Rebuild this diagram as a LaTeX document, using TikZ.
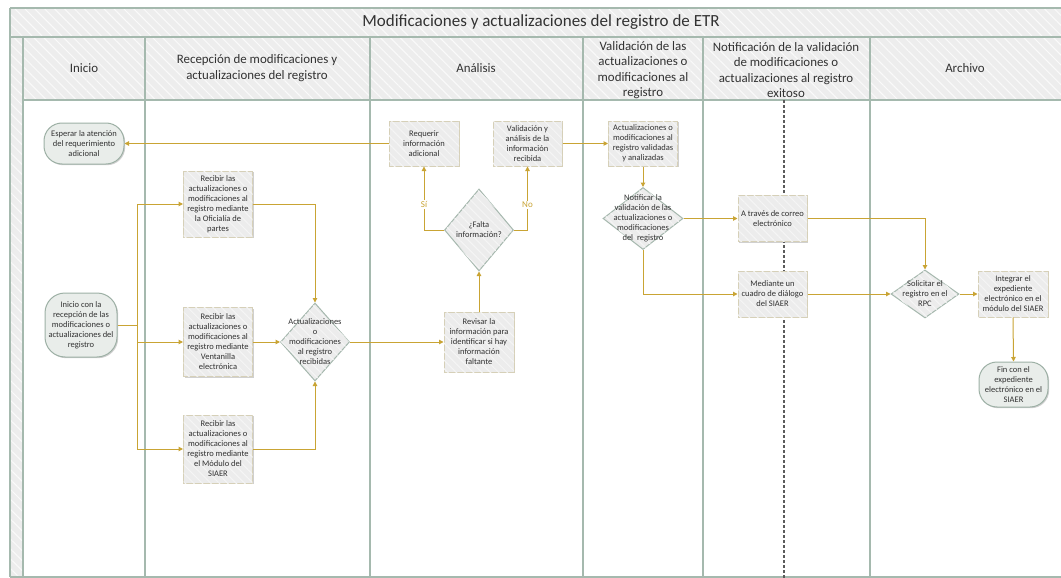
\documentclass[tikz,border=0pt]{standalone}
\usepackage{fontspec}
\setmainfont{Carlito}
\usetikzlibrary{shapes.geometric,arrows.meta,shadows,patterns.meta}
\definecolor{gold}{RGB}{201,164,52}
\definecolor{boxborder}{RGB}{214,208,184}
\definecolor{boxfill}{RGB}{236,236,236}
\definecolor{dmborder}{RGB}{166,184,174}
\definecolor{termfill}{RGB}{233,237,234}
\definecolor{termborder}{RGB}{157,176,165}
\definecolor{laneline}{RGB}{165,185,174}
\definecolor{hdrfill}{RGB}{237,237,237}
\definecolor{txt}{RGB}{50,50,50}
\begin{document}
\begin{tikzpicture}[x=1pt,y=-1pt,
  nodefont/.style={font=\fontsize{8.5}{10}\selectfont, text=txt, align=center},
  hdrtext/.style={font=\fontsize{12.9}{15.5}\selectfont, text=txt, align=center},
  hatch/.style={postaction={pattern={Lines[angle=-45,distance=7pt,line width=1pt]},pattern color=white!70!hdrfill}},
  boxnode/.style={nodefont, rectangle, draw=boxborder, line width=1pt, fill=boxfill, inner sep=1pt,
    minimum width=69pt, drop shadow={shadow xshift=1.2pt,shadow yshift=-1.2pt,opacity=.3,fill=black!60},
    postaction={pattern={Lines[angle=-45,distance=6pt,line width=1pt]},pattern color=white!50!boxfill}},
  termnode/.style={nodefont, rectangle, rounded corners=18pt, draw=termborder, line width=1pt, fill=termfill, inner sep=1pt,
    drop shadow={shadow xshift=1.2pt,shadow yshift=-1.2pt,opacity=.3,fill=black!60}},
  dmnode/.style={diamond, draw=dmborder, line width=1pt, fill=boxfill, inner sep=0pt, aspect=1,
    postaction={pattern={Lines[angle=-45,distance=6pt,line width=1pt]},pattern color=white!50!boxfill}},
  conn/.style={draw=gold, line width=1pt, -{Triangle[width=4.5pt,length=4.5pt]}},
  connplain/.style={draw=gold, line width=1pt},
  lbl/.style={font=\fontsize{9}{10}\selectfont, text=gold, fill=white, inner sep=1pt},
  lane/.style={draw=laneline, line width=1.5pt}
]
\useasboundingbox (0,0) rectangle (1061,578);
% pool background
\fill[white] (0,0) rectangle (1061,578);
% title band
\path[fill=hdrfill, hatch] (10,8) rectangle (1061,37);
% left strip
\path[fill=hdrfill, hatch] (10,37) rectangle (23,577);
% header row
\path[fill=hdrfill, hatch] (23,37) rectangle (1061,100);
% frame lines
\draw[lane] (10,8) -- (1061,8);
\draw[lane] (10,37) -- (1061,37);
\draw[lane] (23,100) -- (1061,100);
\draw[lane] (10,8) -- (10,577);
\draw[lane] (23,37) -- (23,577);
\draw[lane] (10,577) -- (1061,577);
\foreach \xx in {145,370,583,703,870} {\draw[lane] (\xx,37) -- (\xx,577);}
\draw[txt!80, line width=1.1pt, dash pattern=on 3pt off 2pt] (784,100) -- (784,578);

% title and headers
\node[font=\fontsize{17}{20}\selectfont, text=txt] (title) at (541,22) {Modificaciones y actualizaciones del registro de ETR};
\node[hdrtext] (h1) at (84,68) {Inicio};
\node[hdrtext] (h2) at (257,68) {Recepción de modificaciones y\\actualizaciones del registro};
\node[hdrtext] (h3) at (476,68) {Análisis};
\node[hdrtext] (h4) at (643,70) {Validación de las\\actualizaciones o\\modificaciones al\\registro};
\node[hdrtext] (h5) at (786,70) {Notificación de la validación\\de modificaciones o\\actualizaciones al registro\\exitoso};
\node[hdrtext] (h6) at (965,68) {Archivo};

% nodes
\node[termnode, minimum width=80pt, minimum height=41pt] (n1) at (84,143.5) {Esperar la atención\\del requerimiento\\adicional};
\node[boxnode, minimum height=66pt] (n2) at (218,204) {Recibir las\\actualizaciones o\\modificaciones al\\registro mediante\\la Oficialía de\\partes};
\node[termnode, rounded corners=20pt, minimum width=72pt, minimum height=64pt] (n3) at (81,325) {Inicio con la\\recepción de las\\modificaciones o\\actualizaciones del\\registro};
\node[boxnode, minimum height=69pt] (n4) at (218,342) {Recibir las\\actualizaciones o\\modificaciones al\\registro mediante\\Ventanilla\\electrónica};
\node[dmnode, minimum width=69pt, minimum height=78pt] (n5) at (315,342) {};
\node[nodefont] (n5t) at (315,342) {Actualizaciones\\o\\modificaciones\\al registro\\recibidas};
\node[boxnode, minimum height=68pt] (n6) at (218,449) {Recibir las\\actualizaciones o\\modificaciones al\\registro mediante\\el Módulo del\\SIAER};
\node[boxnode, minimum width=70pt, minimum height=60pt] (n7) at (479,342) {Revisar la\\información para\\identificar si hay\\información\\faltante};
\node[dmnode, minimum width=69pt, minimum height=82pt] (n8) at (479,230) {};
\node[nodefont] (n8t) at (479,230) {¿Falta\\información?};
\node[boxnode, minimum width=70pt, minimum height=45pt] (n9) at (424,143.5) {Requerir\\información\\adicional};
\node[boxnode, minimum height=45pt] (n10) at (527.5,143.5) {Validación y\\análisis de la\\información\\recibida};
\node[boxnode, minimum height=45pt] (n11) at (643,143.5) {Actualizaciones o\\modificaciones al\\registro validadas\\y analizadas};
\node[dmnode, minimum width=80pt, minimum height=62pt] (n12) at (643,218.5) {};
\node[nodefont] (n12t) at (643,218.5) {Notificar la\\validación de las\\actualizaciones o\\modificaciones\\del\ \ registro};
\node[boxnode, minimum height=46pt] (n13) at (772.5,218.5) {A través de correo\\electrónico};
\node[boxnode, minimum height=46pt] (n14) at (772.5,294) {Mediante un\\cuadro de diálogo\\del SIAER};
\node[dmnode, minimum width=68pt, minimum height=48pt] (n15) at (925,294) {};
\node[nodefont] (n15t) at (925,294) {Solicitar el\\registro en el\\RPC};
\node[boxnode, minimum width=70pt, minimum height=46pt] (n16) at (1013,294) {Integrar el\\expediente\\electrónico en el\\módulo del SIAER};
\node[termnode, minimum width=69pt, minimum height=45pt] (n17) at (1013.5,384.5) {Fin con el\\expediente\\electrónico en el\\SIAER};

% connectors
\draw[conn] (n9.west) -- (n1.east);
\coordinate (tr) at (137,325);
\draw[connplain] (n3.east) -- (tr);
\draw[conn] (tr) |- (n2.west);
\draw[conn] (tr) |- (n4.west);
\draw[conn] (tr) |- (n6.west);
\draw[conn] (n2.east) -| (n5.north);
\draw[conn] (n4.east) -- (n5.west);
\draw[conn] (n6.east) -| (n5.south);
\draw[conn] (n5.east) -- (n7.west);
\draw[conn] (n7.north) -- (n8.south);
\draw[conn] (n8.west) -| (n9.south) node[lbl, pos=0.7] (lsi) {Sí};
\draw[conn] (n8.east) -| (n10.south) node[lbl, pos=0.7] (lno) {No};
\draw[conn] (n10.east) -- (n11.west);
\draw[conn] (n11.south) -- (n12.north);
\draw[conn] (n12.east) -- (n13.west);
\draw[conn] (n12.south) |- (n14.west);
\draw[conn] (n13.east) -| (n15.north);
\draw[conn] (n14.east) -- (n15.west);
\draw[conn] (n15.east) -- (n16.west);
\draw[conn] (n16.south) -- (n17.north);
\end{tikzpicture}
\end{document}
